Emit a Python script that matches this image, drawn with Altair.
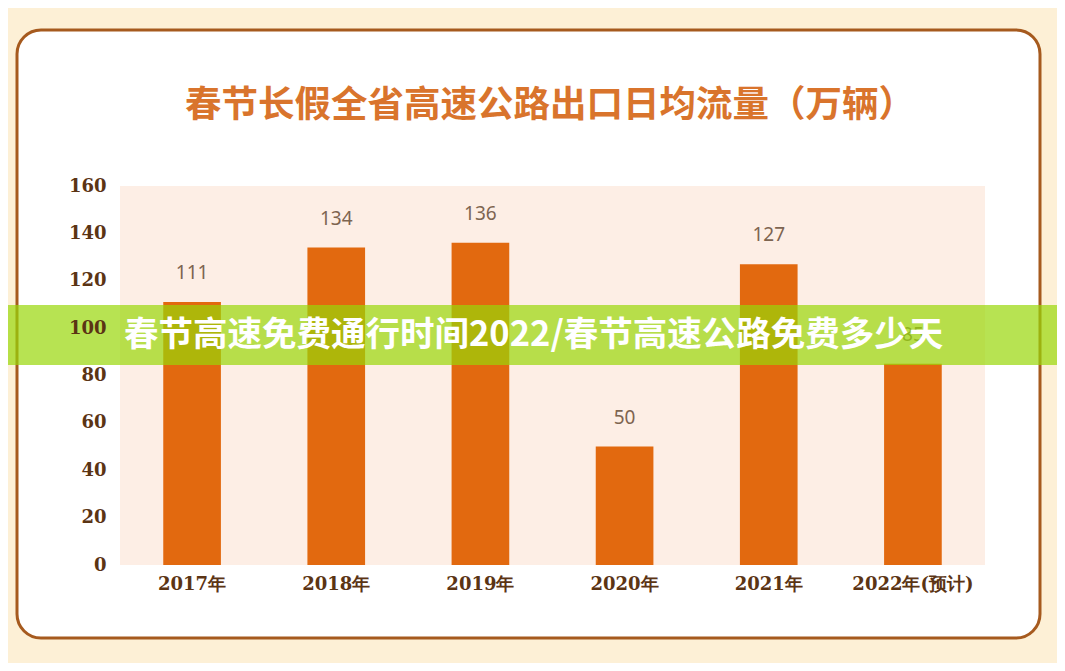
"""Spring Festival expressway daily exit traffic bar chart."""

import pandas as pd
import altair as alt

# data
years = ['2017年', '2018年', '2019年', '2020年', '2021年', '2022年(预计)']
traffic = [111, 134, 136, 50, 127, 85]
y_ticks = [0, 20, 40, 60, 80, 100, 120, 140, 160]

chart_title = '春节长假全省高速公路出口日均流量（万辆）'
banner_text = '春节高速免费通行时间2022/春节高速公路免费多少天'

PLOT_W = 865
PLOT_H = 379

df = pd.DataFrame({'year': years, 'value': traffic})
one = pd.DataFrame({'k': [0]})

x_enc = alt.X(
    'year:N', sort=years, title=None,
    scale=alt.Scale(paddingInner=0.6, paddingOuter=0.3),
    axis=alt.Axis(
        labelAngle=0, domain=False, ticks=False, labelPadding=10, zindex=1,
        labelFont='DejaVu Serif', labelFontWeight='bold', labelFontSize=18,
        labelColor='#5b3414',
    ),
)
y_enc = alt.Y(
    'value:Q', title=None,
    scale=alt.Scale(domain=[0, 160], nice=False),
    axis=alt.Axis(
        values=y_ticks, grid=False, domain=False, ticks=False, labelPadding=14,
        zindex=1,
        labelFont='DejaVu Serif', labelFontWeight='bold', labelFontSize=18,
        labelColor='#5b3414',
    ),
)

# white rounded card behind the chart
card = alt.Chart(one).mark_rect(
    fill='white', stroke='#a65a1e', strokeWidth=3, cornerRadius=24,
).encode(
    x=alt.value(-103), x2=alt.value(920), y=alt.value(-156), y2=alt.value(452),
)

# peach plot background
plot_bg = alt.Chart(one).mark_rect(fill='#fdeee5').encode(
    x=alt.value(0), x2=alt.value(PLOT_W), y=alt.value(0), y2=alt.value(PLOT_H),
)

title = alt.Chart(one).mark_text(
    text=chart_title, font='Noto Sans CJK SC', fontWeight='bold', fontSize=36.5,
    color='#d9742c', align='center', baseline='middle',
).encode(x=alt.value(430), y=alt.value(-80))

bars = alt.Chart(df).mark_bar(color='#e2690f').encode(x=x_enc, y=y_enc)

labels = alt.Chart(df).mark_text(
    font='Noto Sans', fontSize=19, color='#7d6450', baseline='bottom', dy=-19,
).encode(x=alt.X('year:N', sort=years), y='value:Q', text='value:Q')

banner = alt.Chart(one).mark_rect(fill='#98d708', opacity=0.7).encode(
    x=alt.value(-130), x2=alt.value(960), y=alt.value(119), y2=alt.value(179),
)

banner_label = alt.Chart(one).mark_text(
    text=banner_text, font='Noto Sans CJK SC', fontWeight='bold', fontSize=34.5,
    color='white', align='left', baseline='middle',
).encode(x=alt.value(4), y=alt.value(150))

chart = (
    alt.layer(card, plot_bg, title, bars, labels, banner, banner_label)
    .properties(
        width=PLOT_W,
        height=PLOT_H,
        background='#fdf0d6',
        padding={'left': 112, 'top': 178, 'right': 72, 'bottom': 98},
        autosize=alt.AutoSizeParams(type='none'),
    )
    .configure_view(strokeWidth=0)
)

chart.save('out.html', embed_options={'renderer': 'svg', 'actions': False})
